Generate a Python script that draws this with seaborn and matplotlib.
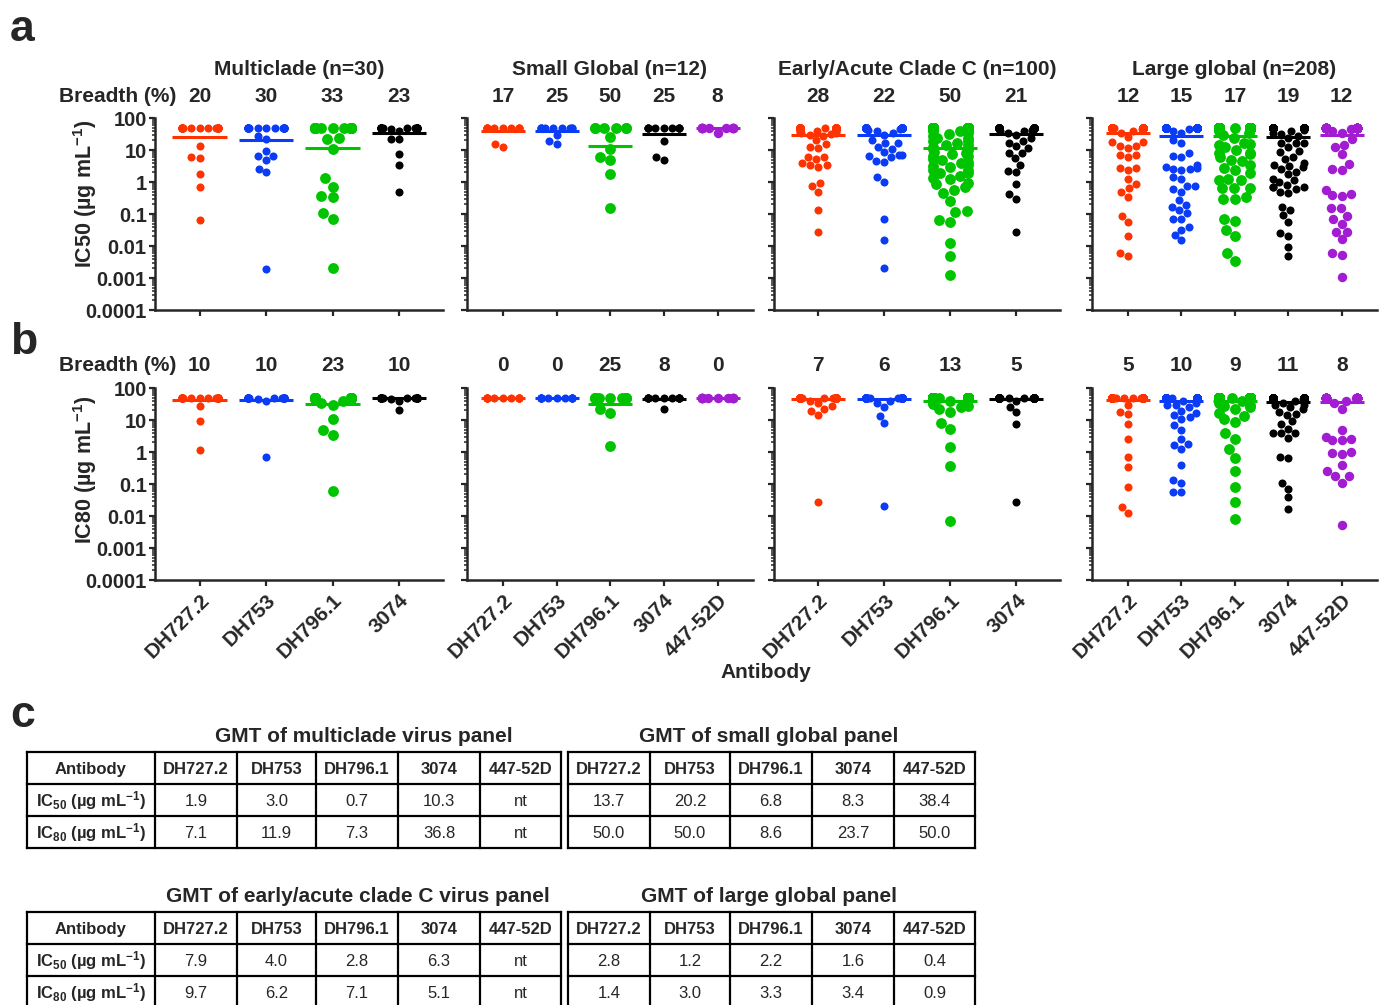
import warnings
warnings.filterwarnings("ignore")
import numpy as np
import pandas as pd
import matplotlib
matplotlib.use("Agg")
import matplotlib.pyplot as plt
import matplotlib.transforms as mtransforms
from matplotlib.collections import PathCollection
from matplotlib.ticker import LogLocator, NullFormatter
import seaborn as sns
from seaborn.categorical import Beeswarm

# ---------------------------------------------------------------- data
AB4 = ["DH727.2", "DH753", "DH796.1", "3074"]
AB5 = ["DH727.2", "DH753", "DH796.1", "3074", "447-52D"]

PANEL_TITLES = ["Multiclade (n=30)", "Small Global (n=12)",
                "Early/Acute Clade C (n=100)", "Large global (n=208)"]
PANEL_N = [30, 12, 100, 208]
PANEL_ABS = [AB4, AB5, AB4, AB5]
CUTOFF = 50.0  # highest tested concentration (non-neutralised viruses)

BREADTH_IC50 = [[20, 30, 33, 23], [17, 25, 50, 25, 8], [28, 22, 50, 21], [12, 15, 17, 19, 12]]
BREADTH_IC80 = [[10, 10, 23, 10], [0, 0, 25, 8, 0], [7, 6, 13, 5], [5, 10, 9, 11, 8]]

# neutralised viruses (titres below the 50 ug/mL cutoff)
multiclade_ic50 = {
    "DH727.2": [13, 6.0, 5.8, 1.8, 0.72, 0.065],
    "DH753": [28, 22, 9.5, 6.7, 6.3, 4.9, 2.6, 2.0, 0.0019],
    "DH796.1": [23, 22, 11, 1.3, 0.72, 0.33, 0.36, 0.11, 0.07, 0.002],
    "3074": [45, 40, 22, 22, 7.5, 3.3, 0.48],
}
smallglobal_ic50 = {
    "DH727.2": [12, 15],
    "DH753": [29.5, 15, 18.6],
    "DH796.1": [26, 10.5, 6.2, 4.7, 1.78, 0.15],
    "3074": [19, 4.7, 6.2],
    "447-52D": [35],
}
earlyc_ic50 = {
    "DH727.2": [45, 44, 42, 40, 40, 38, 36, 35, 33, 32, 29.5, 28, 20.5, 15, 12.6, 11.7,
                6.2, 5.2, 6.0, 4.0, 3.3, 3.0, 3.3, 0.95, 0.75, 0.5, 0.13, 0.027],
    "DH753": [45, 42, 38, 34, 29.5, 20, 17, 16, 12.6, 11, 8.5, 7, 6.2, 4.3, 4.5, 6.5, 7.2,
              1.4, 1.0, 0.07, 0.015, 0.0021],
    "DH796.1": [46, 44, 41, 38, 38, 33, 31, 27, 24, 24, 19, 19, 17, 14, 14, 12, 10.5, 10,
                8.8, 8.1, 7.4, 6.6, 6.6, 5.3, 5.0, 4.2, 4.0, 3.4, 3.1, 2.9, 2.4, 2.3, 1.9,
                1.9, 1.5, 1.3, 1.2, 0.95, 0.85, 0.7, 0.58, 0.45,
                0.25, 0.115, 0.12, 0.065, 0.057, 0.012, 0.0048, 0.0012],
    "3074": [45, 43, 40, 38, 35, 30, 23, 17, 19, 13.8, 11.2, 8, 5.5, 8, 3.5, 2.2, 2.1,
             0.85, 0.41, 0.30, 0.027],
}
largeglobal_ic50 = {
    "DH727.2": [45, 40, 35, 26, 18, 13.3, 17.8, 13.3, 11.2, 7, 6.2, 7, 2.7, 2.4, 2.8, 1.24,
                0.87, 0.5, 0.63, 0.35, 0.087, 0.056, 0.02, 0.0048, 0.0059],
    "DH753": [45, 40, 35, 20.5, 17, 8.3, 6.2, 6.7, 3.4, 2.5, 2.7, 2.4, 3.0, 2.6, 1.2, 1.4,
              0.75, 0.75, 0.48, 0.6, 0.27, 0.16, 0.19, 0.13, 0.07, 0.105, 0.07, 0.032,
              0.038, 0.022, 0.015],
    "DH796.1": [45, 40, 35, 30, 23, 17, 14.4, 15, 12, 10, 8, 7.6, 8, 6, 5, 4.4, 3.5, 2.8,
                2.4, 1.85, 1.15, 1.15, 1.26, 0.66, 0.63, 0.63, 0.35, 0.29, 0.29, 0.06,
                0.07, 0.032, 0.02, 0.006, 0.0035],
    "3074": [45, 42, 40, 35, 32, 28, 23, 17, 16, 16, 12, 9, 8.6, 6, 5.2, 4, 3.3, 3.2, 3.0,
             2.1, 2.5, 1.8, 1.24, 1.0, 1.15, 0.8, 0.71, 0.69, 0.71, 0.5, 0.45, 0.6, 0.16,
             0.13, 0.09, 0.057, 0.026, 0.021, 0.0093, 0.0047],
    "447-52D": [45, 40, 35, 22, 12, 14.4, 7.5, 3.6, 2.3, 2.6, 0.56, 0.39, 0.36, 0.41, 0.15,
                0.15, 0.07, 0.049, 0.087, 0.028, 0.028, 0.016, 0.0062, 0.0052, 0.00105],
}

multiclade_ic80 = {
    "DH727.2": [27, 9.5, 1.15],
    "DH753": [45, 40, 0.68],
    "DH796.1": [40, 35, 30, 11, 4.9, 3.3, 0.062],
    "3074": [45, 40, 20.5],
}
smallglobal_ic80 = {
    "DH727.2": [],
    "DH753": [],
    "DH796.1": [22, 16, 1.55],
    "3074": [22],
    "447-52D": [],
}
earlyc_ic80 = {
    "DH727.2": [40, 33, 27, 19.5, 14.4, 22, 0.027],
    "DH753": [40, 35, 26, 13.3, 8, 0.02],
    "DH796.1": [45, 40, 35, 32, 28, 25, 22, 18, 8.3, 5.2, 1.4, 0.37, 0.0069],
    "3074": [40, 17.5, 26, 7.5, 0.027],
}
largeglobal_ic80 = {
    "DH727.2": [29.5, 15.5, 18, 7.5, 2.6, 0.71, 0.33, 0.079, 0.0195, 0.0127],
    "DH753": [40, 35, 30, 25, 29.5, 17, 12, 14.4, 19, 10.5, 5, 7, 2.6, 1.6, 1.24, 1.8,
              0.4, 0.105, 0.13, 0.055, 0.055],
    "DH796.1": [45, 40, 35, 30, 28, 25, 22, 17, 13.8, 10.5, 8.7, 3.9, 2.6, 1.24, 0.63,
                0.26, 0.083, 0.027, 0.0079],
    "3074": [45, 40, 35, 30, 25, 22, 18, 29.5, 14.4, 15, 9, 5.4, 7.5, 3.9, 3.9, 2.8, 3.9,
             0.63, 0.68, 0.105, 0.07, 0.038, 0.016],
    "447-52D": [40, 35, 22, 4.7, 2.6, 2.3, 2.4, 3.0, 1.0, 0.87, 0.95, 0.38, 0.26, 0.18,
                0.18, 0.11, 0.0052],
}

IC50_SETS = [multiclade_ic50, smallglobal_ic50, earlyc_ic50, largeglobal_ic50]
IC80_SETS = [multiclade_ic80, smallglobal_ic80, earlyc_ic80, largeglobal_ic80]

YTICKS = [1e-4, 1e-3, 1e-2, 1e-1, 1, 10, 100]
YTICK_LABELS = ["0.0001", "0.001", "0.01", "0.1", "1", "10", "100"]

# GMT tables (panel c)
GMT_COLS = ["DH727.2", "DH753", "DH796.1", "3074", "447-52D"]
GMT_MULTICLADE_IC50 = ["1.9", "3.0", "0.7", "10.3", "nt"]
GMT_MULTICLADE_IC80 = ["7.1", "11.9", "7.3", "36.8", "nt"]
GMT_SMALL_IC50 = ["13.7", "20.2", "6.8", "8.3", "38.4"]
GMT_SMALL_IC80 = ["50.0", "50.0", "8.6", "23.7", "50.0"]
GMT_EARLY_IC50 = ["7.9", "4.0", "2.8", "6.3", "nt"]
GMT_EARLY_IC80 = ["9.7", "6.2", "7.1", "5.1", "nt"]
GMT_LARGE_IC50 = ["2.8", "1.2", "2.2", "1.6", "0.4"]
GMT_LARGE_IC80 = ["1.4", "3.0", "3.3", "3.4", "0.9"]

# ---------------------------------------------------------------- style
COLORS = {"DH727.2": "#FF3300", "DH753": "#0A3CF5", "DH796.1": "#00C400",
          "3074": "#000000", "447-52D": "#A21CD2"}
SIZES = {"DH727.2": 5.8, "DH753": 5.8, "DH796.1": 7.8, "3074": 5.8, "447-52D": 6.8}

sns.set_style("ticks")
plt.rcParams["font.family"] = ["Liberation Sans", "DejaVu Sans"]
plt.rcParams["mathtext.fontset"] = "custom"
plt.rcParams["mathtext.rm"] = "Liberation Sans"
plt.rcParams["mathtext.bf"] = "Liberation Sans:bold"
plt.rcParams["mathtext.it"] = "Liberation Sans:italic"
plt.rcParams["mathtext.sf"] = "Liberation Sans"

W, H, DPI = 1384, 1005, 100
fig = plt.figure(figsize=(W / DPI, H / DPI), dpi=DPI)


def px_rect(l, t, r, b):
    return [l / W, 1 - b / H, (r - l) / W, (b - t) / H]


def fy(y):
    return 1 - y / H


AX_L = [155, 467, 774, 1092]
AX_R = [443, 753, 1060, 1377]
ROW_TOP = [118, 388]
ROW_BOT = [310, 580]
BREADTH_BASE = [102, 371]
TITLE_BASE = 75

swarms = []
for r, (datasets, breadths) in enumerate([(IC50_SETS, BREADTH_IC50), (IC80_SETS, BREADTH_IC80)]):
    for p in range(4):
        abs_ = PANEL_ABS[p]
        ax = fig.add_axes(px_rect(AX_L[p], ROW_TOP[r], AX_R[p], ROW_BOT[r]))
        band = 0.54 if len(abs_) == 4 else 0.58
        for i, ab in enumerate(abs_):
            below = datasets[p][ab]
            vals = list(below) + [CUTOFF] * (PANEL_N[p] - len(below))
            df = pd.DataFrame({"Antibody": [ab] * len(vals), "value": vals})
            before = list(ax.collections)
            sns.stripplot(data=df, x="Antibody", y="value", order=abs_, jitter=False,
                          color=COLORS[ab], size=SIZES[ab], linewidth=0, log_scale=True,
                          ax=ax, zorder=3)
            for c in ax.collections:
                if (isinstance(c, PathCollection) and all(c is not b for b in before)
                        and len(c.get_offsets()) > 1):
                    swarms.append((c, i, band))
            gm = 10 ** np.mean(np.log10(vals))
            ax.hlines(gm, i - 0.41, i + 0.41, colors=COLORS[ab], lw=2.2, zorder=4)

        ax.set_yscale("log")
        ax.set_ylim(1e-4, 100)
        ax.set_xlim(-0.67, len(abs_) - 1 + 0.66)
        ax.set_yticks(YTICKS)
        if p == 0:
            ax.set_yticklabels(YTICK_LABELS, fontsize=14.5, fontweight="bold")
        else:
            ax.set_yticklabels([])
        ax.yaxis.set_minor_locator(LogLocator(base=10, subs=np.arange(2, 10), numticks=20))
        ax.yaxis.set_minor_formatter(NullFormatter())
        ax.set_xticks(range(len(abs_)))
        if r == 1:
            ax.set_xticklabels(abs_, rotation=45, ha="right", rotation_mode="anchor",
                               fontsize=15, fontweight="bold")
        else:
            ax.set_xticklabels([])
        ax.set_xlabel("")
        ax.set_ylabel("")
        sns.despine(ax=ax)
        for s in ("left", "bottom"):
            ax.spines[s].set_linewidth(1.8)
        ax.tick_params(axis="y", which="major", length=4.5, width=1.6, pad=1.5, direction="out")
        ax.tick_params(axis="y", which="minor", length=2.5, width=1.1, direction="out")
        ax.tick_params(axis="x", which="major", length=4.5, width=1.6, pad=3, direction="out")
        ax.grid(False)

        trans = mtransforms.blended_transform_factory(ax.transData, fig.transFigure)
        for i, b in enumerate(breadths[p]):
            ax.text(i, fy(BREADTH_BASE[r]), str(b), transform=trans, ha="center",
                    va="baseline", fontsize=15, fontweight="bold")
        if r == 0:
            xm = (AX_L[p] + AX_R[p]) / 2
            fig.text(xm / W, fy(TITLE_BASE), PANEL_TITLES[p], ha="center", va="baseline",
                     fontsize=15, fontweight="bold")

    fig.text(176 / W, fy(BREADTH_BASE[r]), "Breadth (%)", ha="right", va="baseline",
             fontsize=15, fontweight="bold")

fig.text(85 / W, fy(194), "IC50 (µg mL$^{\\mathbf{-1}}$)", rotation=90, ha="center",
         va="center", fontsize=15.5, fontweight="bold")
fig.text(85 / W, fy(470), "IC80 (µg mL$^{\\mathbf{-1}}$)", rotation=90, ha="center",
         va="center", fontsize=15.5, fontweight="bold")
fig.text(766 / W, fy(678), "Antibody", ha="center", va="baseline", fontsize=15,
         fontweight="bold")

for letter, yb in (("a", 41), ("b", 354), ("c", 727)):
    fig.text(10 / W, fy(yb), letter, ha="left", va="baseline", fontsize=32, fontweight="bold")

# ---------------------------------------------------------------- tables
tax = fig.add_axes([0, 0, 1, 1])
tax.set_xlim(0, W)
tax.set_ylim(H, 0)
tax.axis("off")

ROW_LABEL_50 = "IC$_{\\mathbf{50}}$ (µg mL$^{\\mathbf{-1}}$)"
ROW_LABEL_80 = "IC$_{\\mathbf{80}}$ (µg mL$^{\\mathbf{-1}}$)"


def draw_table(col_edges, row_edges, grid, bold_first_col):
    for x in col_edges:
        tax.plot([x, x], [row_edges[0], row_edges[-1]], color="black", lw=1.6,
                 solid_capstyle="projecting")
    for y in row_edges:
        tax.plot([col_edges[0], col_edges[-1]], [y, y], color="black", lw=1.6,
                 solid_capstyle="projecting")
    for ri, row in enumerate(grid):
        yc = (row_edges[ri] + row_edges[ri + 1]) / 2
        for ci, txt in enumerate(row):
            xc = (col_edges[ci] + col_edges[ci + 1]) / 2
            bold = ri == 0 or (bold_first_col and ci == 0)
            tax.text(xc, yc + 1, txt, ha="center", va="center", fontsize=12,
                     fontweight="bold" if bold else "normal")


LEFT_COLS = [27, 155, 237, 316, 398, 480, 561]
RIGHT_COLS = [568, 650, 730, 812, 894, 975]
TOP_ROWS = [752, 784, 816, 848]
BOT_ROWS = [912, 944, 976, 1008]

draw_table(LEFT_COLS, TOP_ROWS,
           [["Antibody"] + GMT_COLS,
            [ROW_LABEL_50] + GMT_MULTICLADE_IC50,
            [ROW_LABEL_80] + GMT_MULTICLADE_IC80], True)
draw_table(RIGHT_COLS, TOP_ROWS, [GMT_COLS, GMT_SMALL_IC50, GMT_SMALL_IC80], False)
draw_table(LEFT_COLS, BOT_ROWS,
           [["Antibody"] + GMT_COLS,
            [ROW_LABEL_50] + GMT_EARLY_IC50,
            [ROW_LABEL_80] + GMT_EARLY_IC80], True)
draw_table(RIGHT_COLS, BOT_ROWS, [GMT_COLS, GMT_LARGE_IC50, GMT_LARGE_IC80], False)

tax.text(364, 742, "GMT of multiclade virus panel", ha="center", va="baseline",
         fontsize=15, fontweight="bold")
tax.text(769, 742, "GMT of small global panel", ha="center", va="baseline",
         fontsize=15, fontweight="bold")
tax.text(358, 902, "GMT of early/acute clade C virus panel", ha="center", va="baseline",
         fontsize=15, fontweight="bold")
tax.text(769, 902, "GMT of large global panel", ha="center", va="baseline",
         fontsize=15, fontweight="bold")

# ---------------------------------------------------------------- swarm layout (seaborn Beeswarm)
fig.canvas.draw()
for coll, center, band in swarms:
    Beeswarm(width=band, orient="x", warn_thresh=1.0)(coll, center)

fig.savefig("out.png", dpi=DPI)
